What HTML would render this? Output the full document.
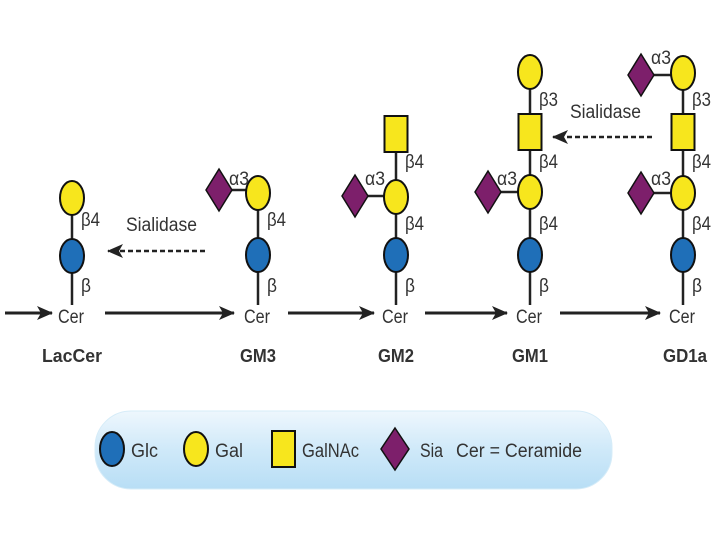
<!DOCTYPE html>
<html><head><style>
body{margin:0;background:#fff;width:720px;height:540px;overflow:hidden}
svg{display:block}
text{font-family:"Liberation Sans",sans-serif;fill:#333}
.l{font-size:19px}
.n{font-size:18px;font-weight:bold;fill:#222}
</style></head><body>
<svg width="720" height="540" viewBox="0 0 720 540">
<defs>
<linearGradient id="lg" x1="0" y1="0" x2="0" y2="1">
<stop offset="0" stop-color="#eef7fd"/><stop offset="0.5" stop-color="#cfe9f9"/><stop offset="1" stop-color="#b8def5"/></linearGradient>
<marker id="ah" markerWidth="16" markerHeight="14" refX="15" refY="7" orient="auto" markerUnits="userSpaceOnUse"><path d="M0,0 L16,7 L0,14 L4,7z" fill="#222"/></marker>
<g id="glc"><ellipse rx="12" ry="17" fill="#1f6fb8" stroke="#111" stroke-width="2"/></g>
<g id="gal"><ellipse rx="12" ry="17" fill="#f7e61d" stroke="#111" stroke-width="2"/></g>
<g id="sq"><rect x="-11.5" y="-18" width="23" height="36" fill="#f7e61d" stroke="#111" stroke-width="2"/></g>
<g id="sia"><path d="M0,-21 L13,0 L0,21 L-13,0z" fill="#7d1f6b" stroke="#111" stroke-width="1.5"/></g>
</defs>
<g stroke="#222" stroke-width="2.5">
<line x1="72" y1="198" x2="72" y2="305"/>
<line x1="258" y1="193" x2="258" y2="305"/><line x1="219" y1="190" x2="258" y2="190"/>
<line x1="396" y1="134" x2="396" y2="305"/><line x1="355" y1="196" x2="396" y2="196"/>
<line x1="530" y1="72" x2="530" y2="305"/><line x1="488" y1="192" x2="530" y2="192"/>
<line x1="683" y1="73" x2="683" y2="305"/><line x1="641" y1="75" x2="683" y2="75"/><line x1="641" y1="193" x2="683" y2="193"/>
</g>
<use href="#gal" x="72" y="198"/><use href="#glc" x="72" y="256"/>
<use href="#sia" x="219" y="190"/><use href="#gal" x="258" y="193"/><use href="#glc" x="258" y="255"/>
<use href="#sq" x="396" y="134"/><use href="#sia" x="355" y="196"/><use href="#gal" x="396" y="197"/><use href="#glc" x="396" y="255"/>
<use href="#gal" x="530" y="72"/><use href="#sq" x="530" y="132"/><use href="#sia" x="488" y="192"/><use href="#gal" x="530" y="192"/><use href="#glc" x="530" y="255"/>
<use href="#sia" x="641" y="75"/><use href="#gal" x="683" y="73"/><use href="#sq" x="683" y="132"/><use href="#sia" x="641" y="193"/><use href="#gal" x="683" y="193"/><use href="#glc" x="683" y="255"/>
<g class="l">
<text x="81" y="226" textLength="19" lengthAdjust="spacingAndGlyphs">β4</text><text x="81" y="292" textLength="10" lengthAdjust="spacingAndGlyphs">β</text>
<text x="267" y="226" textLength="19" lengthAdjust="spacingAndGlyphs">β4</text><text x="267" y="292" textLength="10" lengthAdjust="spacingAndGlyphs">β</text><text x="229" y="185" textLength="20" lengthAdjust="spacingAndGlyphs">α3</text>
<text x="405" y="168" textLength="19" lengthAdjust="spacingAndGlyphs">β4</text><text x="405" y="230" textLength="19" lengthAdjust="spacingAndGlyphs">β4</text><text x="405" y="292" textLength="10" lengthAdjust="spacingAndGlyphs">β</text><text x="365" y="185" textLength="20" lengthAdjust="spacingAndGlyphs">α3</text>
<text x="539" y="106" textLength="19" lengthAdjust="spacingAndGlyphs">β3</text><text x="539" y="168" textLength="19" lengthAdjust="spacingAndGlyphs">β4</text><text x="539" y="230" textLength="19" lengthAdjust="spacingAndGlyphs">β4</text><text x="539" y="292" textLength="10" lengthAdjust="spacingAndGlyphs">β</text><text x="497" y="185" textLength="20" lengthAdjust="spacingAndGlyphs">α3</text>
<text x="692" y="106" textLength="19" lengthAdjust="spacingAndGlyphs">β3</text><text x="692" y="168" textLength="19" lengthAdjust="spacingAndGlyphs">β4</text><text x="692" y="230" textLength="19" lengthAdjust="spacingAndGlyphs">β4</text><text x="692" y="292" textLength="10" lengthAdjust="spacingAndGlyphs">β</text><text x="651" y="64" textLength="20" lengthAdjust="spacingAndGlyphs">α3</text><text x="651" y="185" textLength="20" lengthAdjust="spacingAndGlyphs">α3</text>
<text x="126" y="231" textLength="71" lengthAdjust="spacingAndGlyphs">Sialidase</text><text x="570" y="118" textLength="71" lengthAdjust="spacingAndGlyphs">Sialidase</text>
<text x="58" y="323" textLength="26" lengthAdjust="spacingAndGlyphs">Cer</text><text x="244" y="323" textLength="26" lengthAdjust="spacingAndGlyphs">Cer</text><text x="382" y="323" textLength="26" lengthAdjust="spacingAndGlyphs">Cer</text><text x="516" y="323" textLength="26" lengthAdjust="spacingAndGlyphs">Cer</text><text x="669" y="323" textLength="26" lengthAdjust="spacingAndGlyphs">Cer</text>
</g>
<g class="n">
<text x="72" y="362" text-anchor="middle" textLength="60" lengthAdjust="spacingAndGlyphs">LacCer</text><text x="258" y="362" text-anchor="middle" textLength="36" lengthAdjust="spacingAndGlyphs">GM3</text><text x="396" y="362" text-anchor="middle" textLength="36" lengthAdjust="spacingAndGlyphs">GM2</text><text x="530" y="362" text-anchor="middle" textLength="36" lengthAdjust="spacingAndGlyphs">GM1</text><text x="685" y="362" text-anchor="middle" textLength="44" lengthAdjust="spacingAndGlyphs">GD1a</text>
</g>
<g stroke="#222" stroke-width="3" marker-end="url(#ah)">
<line x1="5" y1="313" x2="52" y2="313"/><line x1="105" y1="313" x2="234" y2="313"/><line x1="288" y1="313" x2="374" y2="313"/><line x1="425" y1="313" x2="507" y2="313"/><line x1="560" y1="313" x2="660" y2="313"/>
</g>
<g stroke="#222" stroke-width="2.5" stroke-dasharray="5,3" marker-end="url(#ah)">
<line x1="205" y1="251" x2="108" y2="251"/><line x1="652" y1="137" x2="553" y2="137"/>
</g>
<rect x="95" y="411" width="517" height="78" rx="36" fill="url(#lg)" stroke="#d6ecf8"/>
<ellipse cx="112" cy="449" rx="12" ry="17" fill="#1f6fb8" stroke="#111" stroke-width="2"/>
<text class="l" x="131" y="457" textLength="27" lengthAdjust="spacingAndGlyphs">Glc</text>
<ellipse cx="196" cy="449" rx="12" ry="17" fill="#f7e61d" stroke="#111" stroke-width="2"/>
<text class="l" x="215" y="457" textLength="28" lengthAdjust="spacingAndGlyphs">Gal</text>
<rect x="272" y="431" width="23" height="36" fill="#f7e61d" stroke="#111" stroke-width="2"/>
<text class="l" x="302" y="457" textLength="57" lengthAdjust="spacingAndGlyphs">GalNAc</text>
<path d="M395,428 L409,449 L395,470 L381,449z" fill="#7d1f6b" stroke="#111" stroke-width="1.5"/>
<text class="l" x="420" y="457" textLength="23" lengthAdjust="spacingAndGlyphs">Sia</text>
<text class="l" x="456" y="457" textLength="126" lengthAdjust="spacingAndGlyphs">Cer = Ceramide</text>
</svg>
</body></html>
